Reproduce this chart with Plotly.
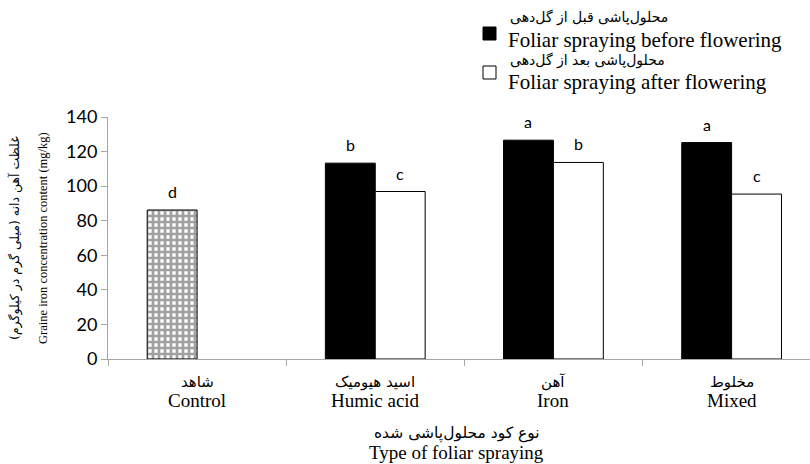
import plotly.graph_objects as go

categories_fa = ["شاهد", "اسید هیومیک", "آهن", "مخلوط"]
categories_en = ["Control", "Humic acid", "Iron", "Mixed"]
before_vals = [86.2, 113.3, 126.6, 125.2]
after_vals = [None, 96.9, 113.7, 95.4]
before_letters = ["d", "b", "a", "a"]
after_letters = ["", "c", "b", "c"]
series_fa = ["محلول‌پاشی قبل از گل‌دهی", "محلول‌پاشی بعد از گل‌دهی"]
series_en = ["Foliar spraying before flowering", "Foliar spraying after flowering"]
ytitle_fa = "غلظت آهن دانه (میلی گرم در کیلوگرم)"
ytitle_en = "Graine iron concentration content (mg/kg)"
xtitle_fa = "نوع کود محلول‌پاشی شده"
xtitle_en = "Type of foliar spraying"

SERIF = "Liberation Serif, DejaVu Serif, serif"
SANS = "Lato, Open Sans, sans-serif"
FA = "DejaVu Sans, sans-serif"
xs = list(range(len(categories_en)))
bar_w = 0.28

fig = go.Figure()
fig.add_trace(go.Bar(
    x=xs, y=before_vals, width=bar_w, offset=-bar_w, name=series_en[0], showlegend=False,
    marker=dict(color=["white", "black", "black", "black"],
                line=dict(color="black", width=1),
                pattern=dict(shape=["+", "", "", ""], fgcolor="black", bgcolor="white",
                             size=6, solidity=0.7)),
))
fig.add_trace(go.Bar(
    x=xs, y=after_vals, width=bar_w, offset=0, name=series_en[1], showlegend=False,
    marker=dict(color="white", line=dict(color="black", width=1)),
))

for i in xs:
    fig.add_annotation(x=i - bar_w/2, y=before_vals[i], text=before_letters[i], showarrow=False,
                       yanchor="bottom", yshift=7, font=dict(family=SANS, size=16, color="black"))
    if after_vals[i] is not None:
        fig.add_annotation(x=i + bar_w/2, y=after_vals[i], text=after_letters[i], showarrow=False,
                           yanchor="bottom", yshift=7, font=dict(family=SANS, size=16, color="black"))
    # category labels
    fig.add_annotation(x=i, xref="x", y=0, yref="paper", yshift=-23, yanchor="middle", xanchor="center",
                       text=categories_fa[i], showarrow=False, font=dict(family=FA, size=15, color="black"))
    fig.add_annotation(x=i, xref="x", y=0, yref="paper", yshift=-41, yanchor="middle", xanchor="center",
                       text=categories_en[i], showarrow=False, font=dict(family=SERIF, size=19, color="black"))

# axis titles
fig.add_annotation(x=0.497, xref="paper", y=0, yref="paper", yshift=-74, yanchor="middle", xanchor="center",
                   text=xtitle_fa, showarrow=False, font=dict(family=FA, size=15.5, color="black"))
fig.add_annotation(x=0.497, xref="paper", y=0, yref="paper", yshift=-93, yanchor="middle", xanchor="center",
                   text=xtitle_en, showarrow=False, font=dict(family=SERIF, size=19, color="black"))
fig.add_annotation(x=0, xref="paper", xshift=-93, y=0.5, yref="paper", textangle=-90,
                   xanchor="center", yanchor="middle",
                   text=ytitle_fa, showarrow=False, font=dict(family=FA, size=12.5, color="black"))
fig.add_annotation(x=0, xref="paper", xshift=-65, y=0.5, yref="paper", textangle=-90,
                   xanchor="center", yanchor="middle",
                   text=ytitle_en, showarrow=False, font=dict(family=SERIF, size=12.5, color="black"))

# legend (keys + text)
plot_h = 464 - 117 - 105
plot_w = 810 - 108
def px_x(px):
    return (px - 108) / plot_w
def px_y(py):
    return (359 - py) / plot_h

key_fill = ["black", "white"]
key_top = [27, 66]
text_fa_y = [18, 60]
text_en_y = [40, 82]
for k in range(2):
    fig.add_shape(type="rect", xref="paper", yref="paper",
                  x0=px_x(483), x1=px_x(496), y0=px_y(key_top[k] + 13), y1=px_y(key_top[k]),
                  fillcolor=key_fill[k], line=dict(color="black", width=1))
    fig.add_annotation(x=px_x(508), xref="paper", y=px_y(text_fa_y[k]), yref="paper",
                       xanchor="left", yanchor="middle", text=series_fa[k], showarrow=False,
                       font=dict(family=FA, size=14, color="black"))
    fig.add_annotation(x=px_x(506), xref="paper", y=px_y(text_en_y[k]), yref="paper",
                       xanchor="left", yanchor="middle", text=series_en[k], showarrow=False,
                       font=dict(family=SERIF, size=21, color="black"))

fig.update_layout(
    width=810, height=464,
    margin=dict(l=108, r=0, t=117, b=105),
    paper_bgcolor="white", plot_bgcolor="white",
    barmode="overlay", showlegend=False,
    font=dict(family=SERIF, color="black"),
    xaxis=dict(range=[-0.5, 3.44], tickvals=[-0.5, 0.5, 1.5, 2.5], showticklabels=False,
               ticks="outside", ticklen=6, tickcolor="#a6a6a6", showline=True, linecolor="#a6a6a6",
               showgrid=False, zeroline=False, automargin=False),
    yaxis=dict(range=[0, 140], tickvals=list(range(0, 141, 20)), ticks="outside", ticklen=6,
               tickcolor="#a6a6a6", showline=True, linecolor="#a6a6a6", showgrid=False, zeroline=False,
               tickfont=dict(family=SANS, size=18, color="black"), automargin=False),
)
fig.write_html("out.html", config={"displayModeBar": False},
               post_script="document.body.style.margin='0';document.body.style.overflow='hidden';")
